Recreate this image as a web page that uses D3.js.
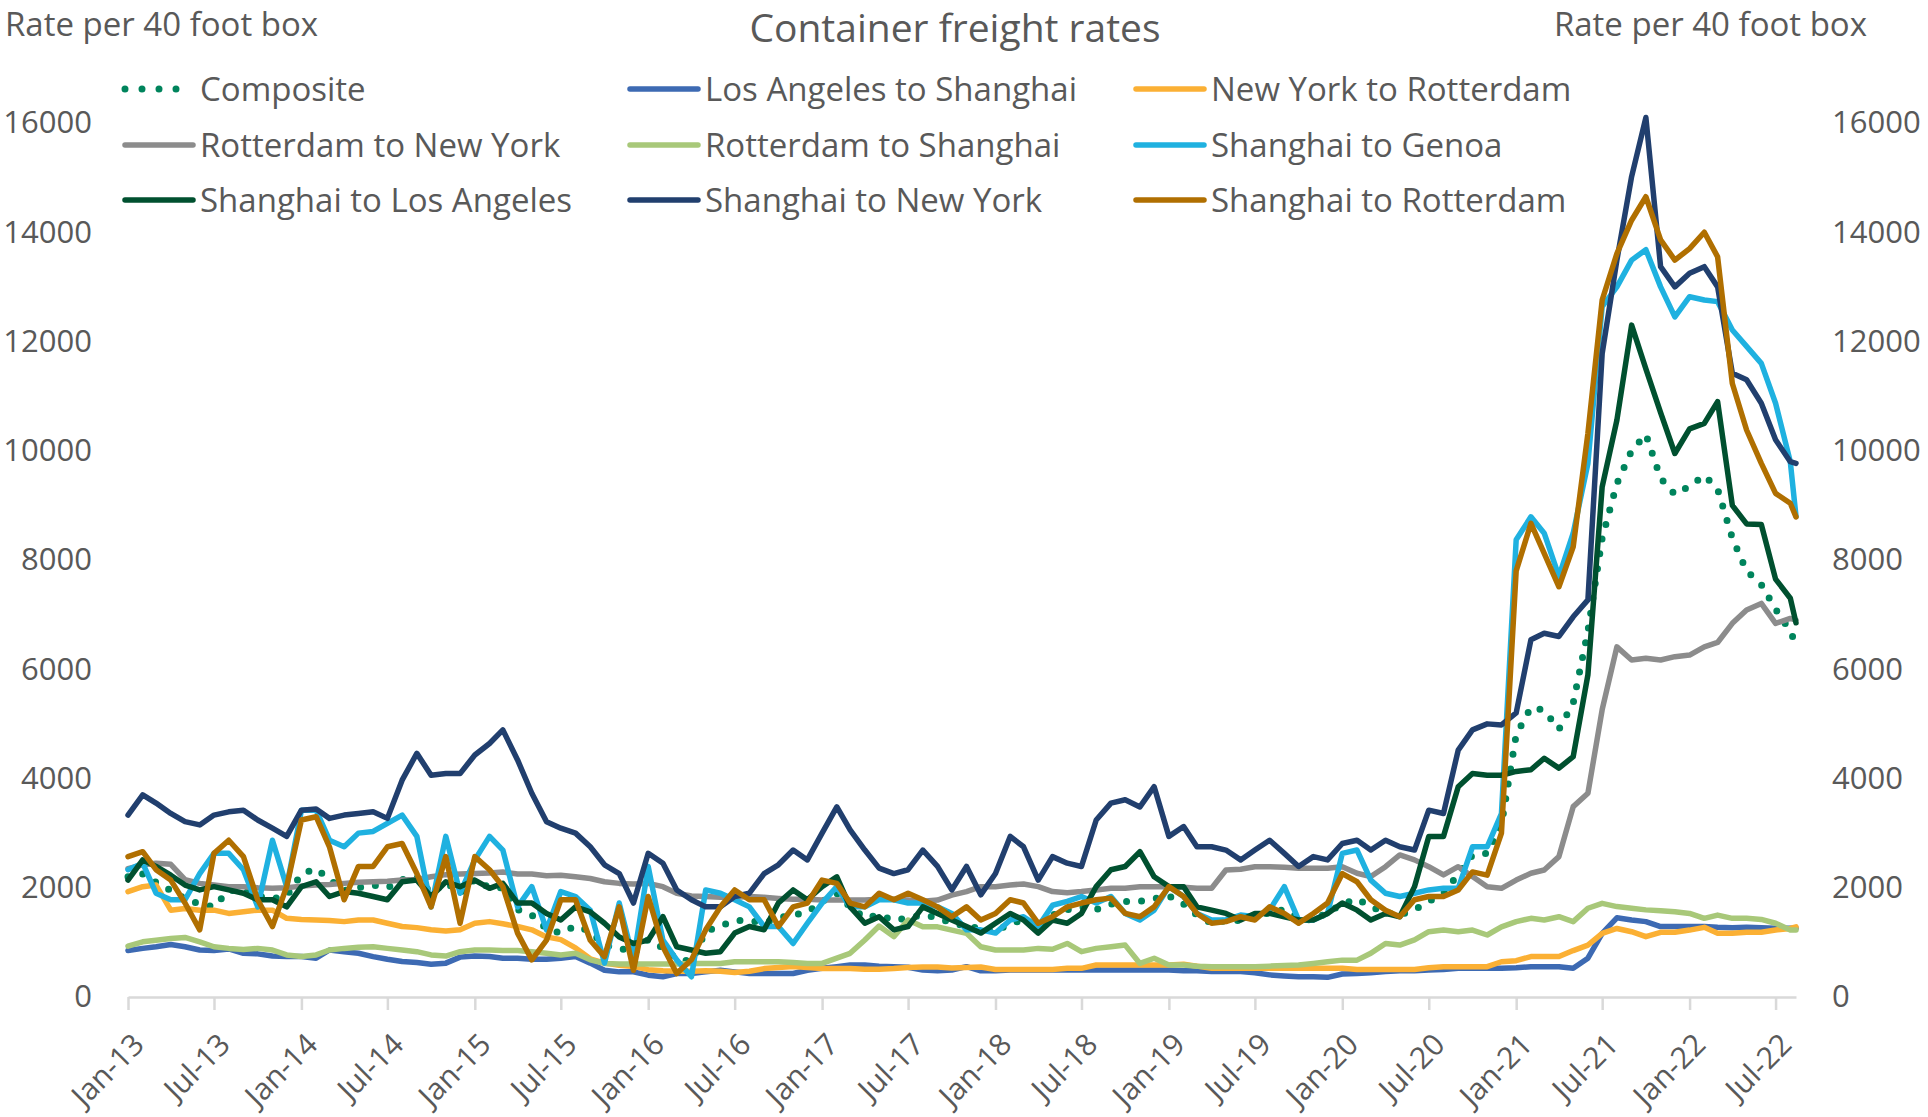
<!DOCTYPE html>
<html>
<head>
<meta charset="utf-8">
<script src="https://cdn.jsdelivr.net/npm/d3@7"></script>
<style>
  body { margin: 0; background: #ffffff; }
  svg { font-family: "Open Sans", sans-serif; }
  text { fill: #595959; }
</style>
</head>
<body>
<svg width="1928" height="1117"></svg>
<script>
// maandelijkse waarden, jan 2013 t/m half aug 2022
var months = d3.timeMonth.range(new Date(2013, 0, 1), new Date(2022, 7, 2));
months.push(new Date(2022, 7, 13));

var yTicks = [0, 2000, 4000, 6000, 8000, 10000, 12000, 14000, 16000];

var composite = [2200,2250,2100,1950,1800,1700,1650,1950,1950,1850, 1800,1850,2250,2350,2150,1950,2000,2050,2000,2150, 2200,1900,2100,1900,2150,2000,2000,1600,1500,1250,
  1170,1300,1200,950,900,800,1050,900,700,650, 1200,1300,1400,1400,1350,1450,1500,1550,1750,1900, 1650,1450,1500,1400,1450,1500,1450,1350,1300,1250,
  1200,1350,1400,1250,1500,1600,1650,1600,1700,1750, 1750,1800,1850,1700,1500,1350,1400,1400,1450,1550, 1600,1450,1400,1550,1700,1800,1650,1550,1500,1600,
  1750,1900,2250,2600,2630,3150,4800,5300,5250,4900, 5380,6700,8400,9400,10000,10300,9500,9200,9350,9550, 9300,8400,7800,7550,7100,6700,6450];

var laSha = [850,890,920,960,920,860,850,880,800,790, 750,740,740,710,860,830,800,740,690,650, 630,600,620,730,750,740,710,710,690,690,
  710,740,620,490,460,460,400,370,430,430, 460,490,460,430,430,430,430,490,525,555, 585,585,565,555,545,495,480,495,555,480,
  480,495,495,495,495,495,495,495,495,495, 495,495,495,480,480,465,465,465,445,405, 385,370,370,360,420,430,445,465,480,480,
  495,505,525,525,525,525,535,555,555,555, 525,710,1165,1450,1410,1380,1290,1290,1290,1290, 1275,1270,1275,1270,1260,1260,1260];

var nyRot = [1930,2020,2050,1590,1620,1590,1590,1530,1560,1590, 1590,1440,1420,1410,1400,1380,1410,1410,1350,1290, 1270,1230,1210,1230,1350,1380,1340,1290,1230,1100,
  1050,900,700,620,580,560,500,480,470,470, 480,470,450,470,520,540,560,540,520,520, 520,510,510,520,540,550,550,530,540,550,
  505,505,505,505,505,525,525,585,585,585, 585,585,585,600,565,525,525,525,525,525, 525,525,525,525,525,505,505,505,505,505,
  535,555,555,555,555,645,665,740,740,740, 850,950,1165,1255,1195,1105,1185,1185,1225,1275, 1165,1165,1185,1185,1225,1255,1285];

var rotNy = [2350,2420,2450,2430,2150,2080,2050,2020,2020,2000, 1990,2000,2030,2050,2060,2080,2100,2110,2120,2140, 2150,2200,2240,2250,2260,2270,2290,2250,2250,2220,
  2230,2200,2170,2110,2080,2070,2080,2020,1900,1850, 1840,1825,1825,1840,1825,1805,1790,1790,1775,1775, 1775,1775,1790,1790,1775,1755,1775,1865,1930,2020,
  2020,2050,2070,2020,1930,1910,1930,1960,1990,1990, 2020,2020,2020,2010,1990,1990,2325,2340,2385,2385, 2375,2355,2355,2355,2385,2265,2205,2385,2600,2510,
  2385,2235,2385,2205,2020,1990,2140,2265,2325,2570, 3485,3730,5260,6410,6170,6200,6170,6230,6260,6410, 6490,6840,7085,7205,6840,6930,6900];

var rotSha = [930,1010,1040,1070,1090,1010,920,890,870,890, 860,770,740,770,860,890,910,920,890,860, 830,770,750,830,860,860,850,850,830,800,
  770,800,680,615,605,605,605,605,605,615, 615,615,645,645,645,645,630,615,615,710, 800,1045,1300,1105,1410,1285,1285,1225,1165,920,
  860,860,860,890,875,980,830,890,920,950, 615,710,585,585,565,555,555,555,555,565, 575,585,615,645,675,675,800,980,950,1045,
  1195,1225,1195,1225,1135,1285,1380,1440,1410,1470, 1380,1625,1715,1655,1625,1595,1580,1560,1530,1440, 1500,1440,1440,1420,1350,1225,1225];

var shaGen = [2330,2450,1900,1780,1780,2260,2630,2630,2330,1650, 2870,2020,3420,3420,2870,2750,3000,3030,3180,3330, 2940,1650,2940,1900,2510,2940,2690,1650,2020,1230,
  1930,1840,1590,620,1720,680,2390,1040,680,370, 1960,1900,1780,1650,1290,1290,980,1350,1720,2020, 1650,1650,1780,1780,1720,1720,1650,1530,1230,1230,
  1170,1410,1470,1290,1680,1750,1840,1720,1840,1530, 1410,1590,2020,1840,1530,1410,1410,1500,1470,1590, 2020,1410,1410,1530,2630,2690,2140,1900,1840,1900,
  1960,1990,1990,2750,2750,3360,8370,8790,8490,7700, 8490,9770,12640,13000,13490,13680,13000,12450,12820,12760, 12730,12210,11910,11600,10870,9800,8800];

var shaLa = [2140,2510,2390,2230,2050,1960,2020,1960,1900,1780, 1780,1650,2020,2110,1840,1930,1900,1840,1780,2110, 2140,1840,2110,2020,2140,1990,2080,1720,1720,1530,
  1410,1650,1560,1350,1100,980,1040,1470,920,860, 800,830,1170,1290,1230,1720,1960,1780,2020,2200, 1650,1350,1470,1230,1290,1650,1530,1410,1290,1170,
  1350,1530,1410,1170,1410,1350,1530,2020,2330,2390, 2660,2200,2020,2020,1650,1590,1530,1410,1530,1530, 1470,1410,1410,1530,1720,1590,1410,1530,1470,2020,
  2940,2940,3850,4090,4060,4060,4130,4160,4370,4190, 4400,5900,9340,10560,12300,11500,10700,9950,10400,10500, 10900,9000,8660,8650,7650,7300,6850];

var shaNy = [3330,3700,3550,3360,3210,3150,3330,3390,3420,3240, 3090,2940,3420,3440,3270,3330,3360,3390,3270,3970, 4460,4060,4090,4090,4430,4640,4890,4340,3730,3210,
  3090,3000,2750,2420,2260,1720,2630,2450,1960,1780, 1650,1650,1840,1900,2260,2420,2690,2510,3000,3480, 3060,2690,2360,2260,2330,2690,2390,1960,2390,1870,
  2260,2940,2750,2140,2570,2450,2390,3240,3550,3610, 3480,3850,2940,3120,2750,2750,2690,2510,2690,2870, 2630,2390,2570,2510,2810,2870,2690,2870,2750,2690,
  3420,3360,4520,4890,5000,4980,5200,6540,6660,6600, 6960,7270,11780,13490,15020,16100,13370,13000,13250,13370, 13000,11420,11300,10870,10200,9800,9770];

var shaRot = [2570,2660,2330,2140,1720,1230,2630,2870,2570,1780, 1290,2020,3240,3300,2750,1780,2390,2390,2750,2810, 2260,1650,2570,1350,2570,2330,2020,1170,680,1040,
  1780,1780,1040,740,1650,490,1840,920,430,680, 1230,1650,1960,1780,1780,1290,1650,1720,2140,2080, 1720,1650,1900,1780,1900,1780,1650,1470,1650,1410,
  1530,1780,1720,1350,1470,1650,1720,1780,1810,1530, 1470,1650,2020,1840,1530,1350,1380,1470,1410,1650, 1530,1350,1530,1720,2260,2110,1780,1590,1470,1780,
  1840,1840,1960,2290,2230,3000,7800,8670,8120,7510, 8240,10320,12760,13610,14220,14650,13860,13490,13700,14000, 13550,11230,10380,9770,9220,9040,8790];

var names = ["Composite", "Los Angeles to Shanghai", "New York to Rotterdam",
             "Rotterdam to New York", "Rotterdam to Shanghai", "Shanghai to Genoa",
             "Shanghai to Los Angeles", "Shanghai to New York", "Shanghai to Rotterdam"];
var colors = ["#00845c", "#3d6ab3", "#fbb034", "#8c8c8c", "#a8c879", "#1fb1e0", "#00502f", "#213f6e", "#b06f00"];
var values = [composite, laSha, nyRot, rotNy, rotSha, shaGen, shaLa, shaNy, shaRot];

// speelveld
var svg = d3.select("svg");

var x = d3.scaleTime()
    .domain([months[0], months[months.length - 1]])
    .range([128, 1796]);
var y = d3.scaleLinear()
    .domain([0, 16000])
    .range([997, 123]);

var series = names.map(function(n, i) {
  return {name: n, color: colors[i], dotted: i === 0,
          points: months.map(function(m, j) { return {date: m, value: values[i][j]}; })};
});

// titel en as-titels
svg.append("text")
    .attr("x", 955).attr("y", 42)
    .attr("text-anchor", "middle")
    .style("font-size", "39px")
    .text("Container freight rates");

svg.append("text")
    .attr("x", 5).attr("y", 36)
    .style("font-size", "33px")
    .text("Rate per 40 foot box");

svg.append("text")
    .attr("x", 1867).attr("y", 36)
    .attr("text-anchor", "end")
    .style("font-size", "33px")
    .text("Rate per 40 foot box");

// y-assen links en rechts
var yLeft = svg.append("g")
    .attr("transform", "translate(100,0)")
    .call(d3.axisLeft(y).tickValues(yTicks).tickSize(0).tickPadding(8).tickFormat(d3.format("d")));
var yRight = svg.append("g")
    .attr("transform", "translate(1824,0)")
    .call(d3.axisRight(y).tickValues(yTicks).tickSize(0).tickPadding(8).tickFormat(d3.format("d")));

[yLeft, yRight].forEach(function(g) {
  g.select(".domain").remove();
  g.selectAll("text")
      .style("font-size", "31px")
      .style("font-family", "'Open Sans', sans-serif")
      .attr("fill", "#595959");
});

// x-as
var xAxis = svg.append("g")
    .attr("transform", "translate(0,997)")
    .call(d3.axisBottom(x)
      .ticks(d3.timeMonth.every(6))
      .tickFormat(d3.timeFormat("%b-%y"))
      .tickSize(13)
      .tickSizeOuter(0));

xAxis.select(".domain")
    .attr("stroke", "#d9d9d9")
    .attr("stroke-width", 2.5);
xAxis.selectAll(".tick line")
    .attr("stroke", "#d9d9d9")
    .attr("stroke-width", 2.5);
xAxis.selectAll(".tick text")
    .attr("y", null).attr("dy", null)
    .attr("text-anchor", "end")
    .attr("fill", "#595959")
    .attr("transform", "translate(10,42) rotate(-45)")
    .attr("dy", "0.35em")
    .style("font-size", "30px")
    .style("font-family", "'Open Sans', sans-serif");

// lijnen
var line = d3.line()
    .x(function(d) { return x(d.date); })
    .y(function(d) { return y(d.value); });

svg.append("g").selectAll("path")
    .data(series)
    .enter().append("path")
      .attr("d", function(d) { return line(d.points); })
      .attr("fill", "none")
      .attr("stroke", function(d) { return d.color; })
      .attr("stroke-width", function(d) { return d.dotted ? 7 : 5.5; })
      .attr("stroke-linejoin", "round")
      .attr("stroke-linecap", "round")
      .attr("stroke-dasharray", function(d) { return d.dotted ? "0 15" : null; });

// legenda, 3 kolommen
var legendX = [123, 628, 1134],
    legendY = [89, 145, 200];

var legend = svg.append("g").selectAll("g")
    .data(series)
    .enter().append("g")
      .attr("transform", function(d, i) {
        return "translate(" + legendX[i % 3] + "," + legendY[Math.floor(i / 3)] + ")"; });

legend.append("line")
    .attr("x1", 2).attr("x2", 70)
    .attr("stroke", function(d) { return d.color; })
    .attr("stroke-width", function(d) { return d.dotted ? 7 : 5.5; })
    .attr("stroke-linecap", "round")
    .attr("stroke-dasharray", function(d) { return d.dotted ? "0 17" : null; });

legend.append("text")
    .attr("x", 77)
    .attr("dy", "0.35em")
    .style("font-size", "33px")
    .text(function(d) { return d.name; });
</script>
</body>
</html>
